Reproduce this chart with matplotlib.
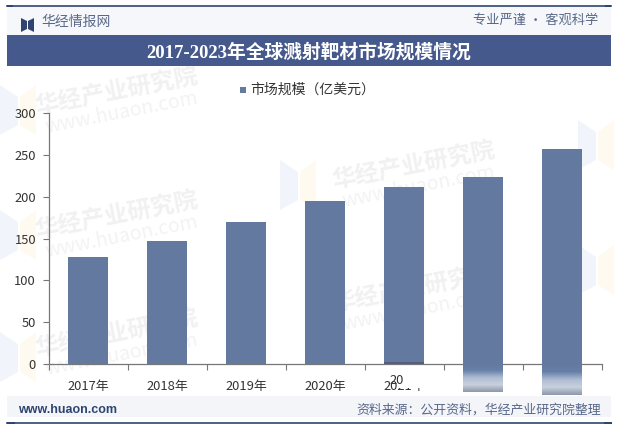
import numpy as np
import matplotlib
matplotlib.use('Agg')
import matplotlib.pyplot as plt
from matplotlib.patches import Rectangle, Polygon
from matplotlib.colors import LinearSegmentedColormap

plt.rcParams['font.family'] = ['Noto Sans CJK SC', 'DejaVu Sans']

# chart data
years = ['2017年', '2018年', '2019年', '2020年', '2021年', '2022年', '2023年']
values = [128, 147, 170, 195, 212, 223.5, 257]
yticks = [0, 50, 100, 150, 200, 250, 300]
legend_label = '市场规模（亿美元）'
title = '2017-2023年全球溅射靶材市场规模情况'

W, H = 618, 432
BAR = '#64799f'
NAVY = '#2f4470'
BAND = '#46598c'
TEXT = '#333333'

fig = plt.figure(figsize=(W / 100, H / 100), dpi=100, facecolor='white')

# full figure overlay in pixel coords, y going down like the picture
bg = fig.add_axes([0, 0, 1, 1], zorder=0)
bg.set_xlim(0, W)
bg.set_ylim(H, 0)
bg.axis('off')

# watermarks
for x, y in [(35, 108), (35, 232), (35, 350), (332, 182), (332, 305)]:
    bg.text(x, y, '华经产业研究院', fontsize=17, color='#f1f1f1', rotation=11,
            ha='left', va='center', fontweight='bold', rotation_mode='anchor')
    bg.text(x + 10, y + 20, 'www.huaon.com', fontsize=14, color='#f3f3f3', rotation=11,
            ha='left', va='center', rotation_mode='anchor')
for x, y in [(0, 105), (0, 230), (0, 352), (280, 180), (578, 140), (578, 265)]:
    bg.add_patch(Polygon([(x, y - 20), (x + 18, y - 8), (x + 18, y + 20), (x, y + 30)],
                         closed=True, color='#f1f5fb', lw=0))
    bg.add_patch(Polygon([(x + 20, y - 8), (x + 36, y - 20), (x + 36, y + 30), (x + 20, y + 20)],
                         closed=True, color='#fefaf0', lw=0))

# main plot
ax = fig.add_axes([48.5 / W, 1 - 364 / H, 553 / W, 251 / H], zorder=2)
ax.patch.set_alpha(0)
x = np.arange(len(years))
ax.bar(x, values, width=0.5, color=BAR, zorder=3)
ax.set_xlim(-0.5, 6.5)
ax.set_ylim(0, 300)
ax.set_yticks(yticks)
ax.set_xticks(np.arange(-0.5, 7, 1))
ax.set_xticklabels([])
ax.tick_params(axis='both', length=4, width=0.8, color='#777777', labelcolor=TEXT, labelsize=9.3, pad=3)
ax.tick_params(axis='y', pad=5)
for s in ['top', 'right']:
    ax.spines[s].set_visible(False)
for s in ['left', 'bottom']:
    ax.spines[s].set_color('#777777')
    ax.spines[s].set_linewidth(0.9)
for i, label in enumerate(years[:5]):
    ax.annotate(label, (i, 0), xytext=(0, -16), textcoords='offset points', ha='center', va='center',
                fontsize=9.3, color=TEXT, annotation_clip=False)

# the last bars smear below the axis in the source image
smear = LinearSegmentedColormap.from_list('smear', [BAR, '#6780a8', '#aebcd2', '#c9d1de', '#8e98a8'])
grad = np.linspace(0, 1, 64).reshape(-1, 1)
for i, bottom in [(5, -33.5), (6, -37)]:
    ax.imshow(grad, extent=(i - 0.25, i + 0.25, bottom, 0), cmap=smear, aspect='auto',
              clip_on=False, zorder=3, interpolation='bilinear')
ax.set_xlim(-0.5, 6.5)
ax.set_ylim(0, 300)

# top layer: header, footer, legend
fg = fig.add_axes([0, 0, 1, 1], zorder=3)
fg.set_xlim(0, W)
fg.set_ylim(H, 0)
fg.axis('off')

# smudge over the 2021 label
fg.add_patch(Rectangle((398, 372), 32, 16, color='white', lw=0))
fg.text(389, 380, '20', fontsize=9.3, color=TEXT, ha='left', va='center', fontstyle='italic')
fg.add_patch(Rectangle((384, 361.5), 40, 2.5, color='#4f5f7d', lw=0))

fg.add_patch(Rectangle((7, 7), 604, 28, color='#f5f7fa', lw=0))
fg.plot([7, 611], [6, 6], color=NAVY, lw=1.2)
fg.add_patch(Rectangle((7, 5), 6, 2.4, color=NAVY, lw=0))
fg.add_patch(Rectangle((605, 5), 6, 2.4, color=NAVY, lw=0))
fg.add_patch(Polygon([(21, 18), (27, 21), (27, 29), (21, 32)], closed=True, color=NAVY, lw=0))
fg.add_patch(Polygon([(34, 18), (28, 21), (28, 29), (34, 32)], closed=True, color=NAVY, lw=0))
fg.text(41, 22, '华经情报网', fontsize=10, color='#59688a', ha='left', va='center')
fg.text(598, 20, '专业严谨 • 客观科学', fontsize=9.5, color='#59688a', ha='right', va='center')

fg.add_patch(Rectangle((7, 35), 604, 31, color=BAND, lw=0))
fg.text(309, 52, title, fontsize=13.5, color='white', ha='center', va='center', fontweight='bold',
        family=['Liberation Serif', 'Noto Sans CJK SC'])

fg.add_patch(Rectangle((240, 87), 6, 6, color=BAR, lw=0))
fg.text(250, 90, legend_label, fontsize=10, color=TEXT, ha='left', va='center')

fg.add_patch(Rectangle((7, 396), 604, 21, color='#f3f5f9', lw=0))
fg.plot([7, 611], [423, 423], color=NAVY, lw=1.2)
fg.add_patch(Rectangle((7, 422), 8, 2.4, color=NAVY, lw=0))
fg.add_patch(Rectangle((604, 422), 8, 2.4, color=NAVY, lw=0))
fg.text(18, 410, 'www.huaon.com', fontsize=9, color=NAVY, ha='left', va='center', fontweight='bold',
        family=['Liberation Sans'])
fg.text(601, 410, '资料来源：公开资料，华经产业研究院整理', fontsize=9.3, color='#59688a', ha='right', va='center')

fig.savefig('out.png', dpi=100)
